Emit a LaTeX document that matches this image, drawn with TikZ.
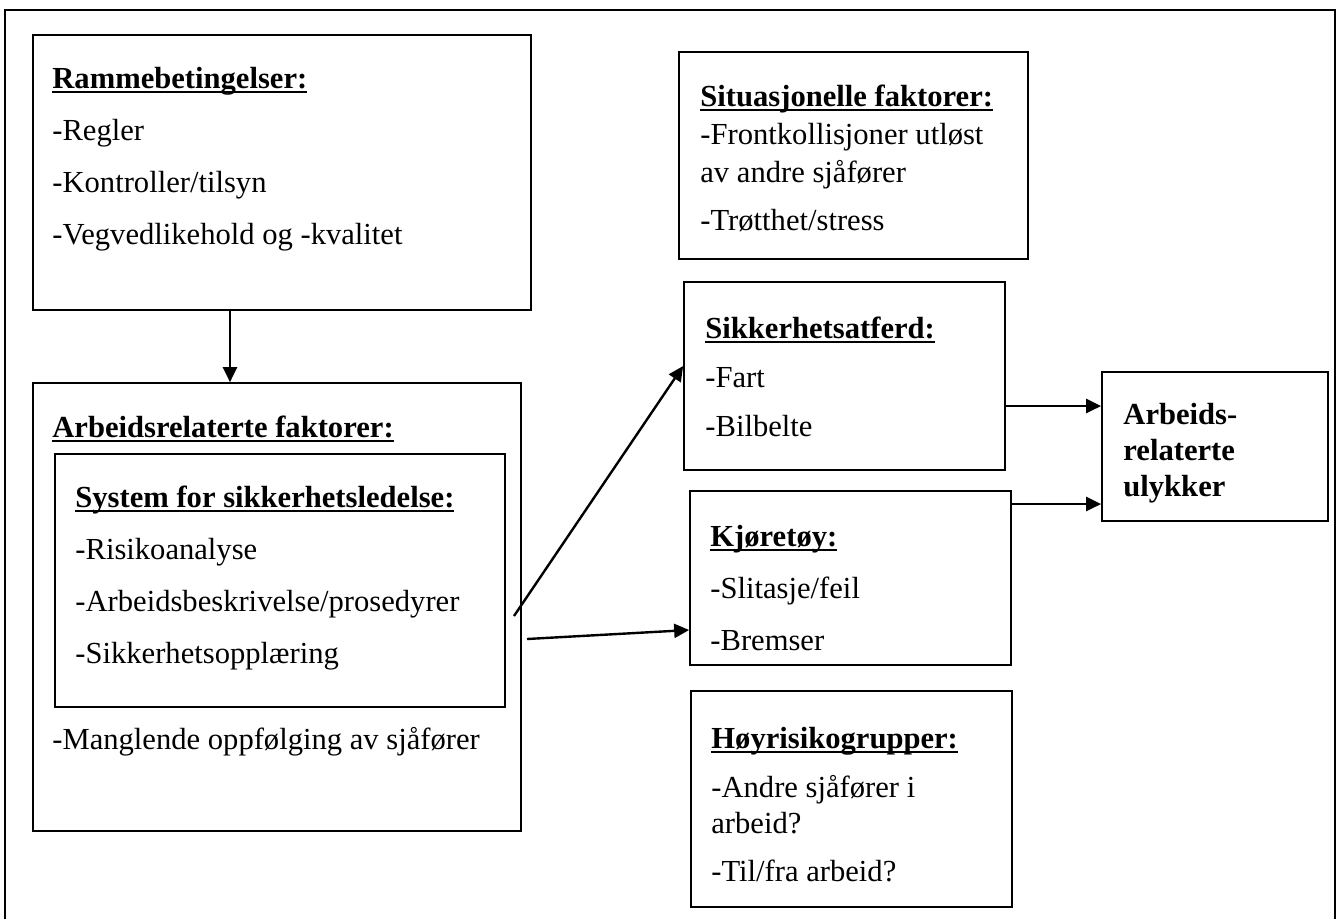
\documentclass[tikz,border=0pt]{standalone}
\usepackage{fontspec}
\setmainfont{Liberation Serif}
\usetikzlibrary{arrows.meta,fit}
\tikzset{
  frame/.style={draw, line width=1.1pt},
  box/.style={draw, line width=0.85pt, inner sep=0pt},
  thinbox/.style={box, line width=0.6pt},
  txt/.style={anchor=north west, inner sep=0pt, align=left,
    font=\fontsize{15.3pt}{#1}\selectfont},
  txt/.default=18pt,
  flow/.style={-{Triangle[length=7.5pt,width=7pt]}, line width=1.2pt}
}
% bold heading, underlined close to the baseline
\newcommand{\hd}[1]{\setbox0\hbox{\bfseries #1}\rlap{\rule[-2pt]{\wd0}{0.8pt}}\box0}

\begin{document}
\begin{tikzpicture}[x=0.5pt,y=-0.5pt]
  \clip (0,0) rectangle (1339,918);
  \draw[frame] (5,10) rectangle (1335,950);

  % left column
  \node[box,fit={(33,35) (531,310)}] (ramme) {};
  \node[txt=26pt] (rammetxt) at (52,67)
    {\hd{Rammebetingelser:}\\-Regler\\-Kontroller/tilsyn\\-Vegvedlikehold og -kvalitet};
  \node[box,fit={(33,383) (521,831)}] (arbeid) {};
  \node[txt] (arbeidtxt) at (52,416) {\hd{Arbeidsrelaterte faktorer:}};
  \node[box,line width=1pt,fit={(55,454) (505,707)}] (system) {};
  \node[txt=26pt] (systemtxt) at (75,486)
    {\hd{System for sikkerhetsledelse:}\\-Risikoanalyse\\-Arbeidsbeskrivelse/prosedyrer\\-Sikkerhetsopplæring};
  \node[txt] (mangel) at (52,727) {-Manglende oppfølging av sjåfører};

  % middle column
  \node[thinbox,fit={(679,52) (1028,259)}] (situ) {};
  \node[txt=19pt] (situtxt) at (700,85)
    {\hd{Situasjonelle faktorer:}\\-Frontkollisjoner utløst\\av andre sjåfører\\[5pt]-Trøtthet/stress};
  \node[box,fit={(684,282) (1005,470)}] (sikker) {};
  \node[txt=24.5pt] (sikkertxt) at (705,317)
    {\hd{Sikkerhetsatferd:}\\-Fart\\-Bilbelte};
  \node[box,fit={(690,491) (1011,665)}] (kjore) {};
  \node[txt=26pt] (kjoretxt) at (710,525)
    {\hd{Kjøretøy:}\\-Slitasje/feil\\-Bremser};
  \node[thinbox,fit={(691,691) (1012,907)}] (hoy) {};
  \node[txt] (hoytxt) at (711,727)
    {\hd{Høyrisikogrupper:}\\[6.5pt]-Andre sjåfører i\\arbeid?\\[6pt]-Til/fra arbeid?};

  % outcome
  \node[box,fit={(1102,372) (1328,521)}] (ulykke) {};
  \node[txt,font=\fontsize{15.3pt}{18pt}\selectfont\bfseries] (ulykketxt) at (1123,403)
    {Arbeids-\\relaterte\\ulykker};

  % connectors
  \coordinate (v) at (230,0);
  \coordinate (dstart) at (514,616);
  \coordinate (dend) at (0,366);
  \coordinate (kstart) at (527,639);
  \coordinate (kend) at (0,630);
  \coordinate (u1) at (0,406);
  \coordinate (u2) at (0,504);
  \draw[flow] (ramme.south -| v) -- (arbeid.north -| v);
  \draw[flow] (dstart) -- (sikker.west |- dend);
  \draw[flow] (kstart) -- (kjore.west |- kend);
  \draw[flow] (sikker.east |- u1) -- (ulykke.west |- u1);
  \draw[flow] (kjore.east |- u2) -- (ulykke.west |- u2);
\end{tikzpicture}
\end{document}
